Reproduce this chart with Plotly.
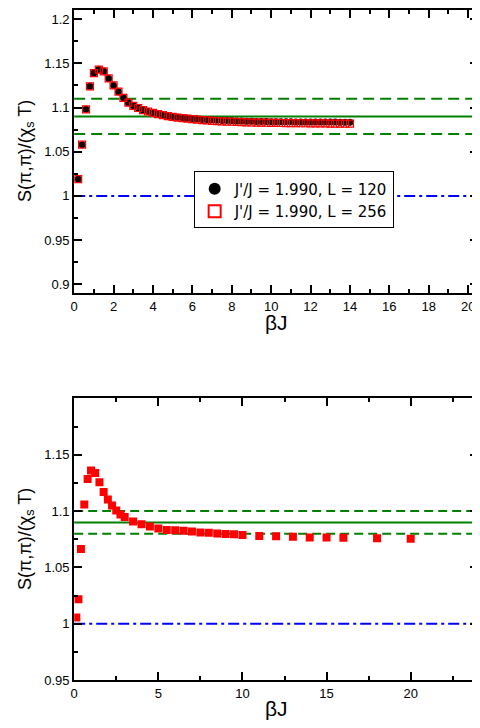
import plotly.graph_objects as go

# ---------------- data ----------------
x_top = [0.2, 0.4, 0.6, 0.8, 1.0, 1.25, 1.5, 1.75, 2.0, 2.25, 2.5, 2.75, 3.0, 3.25, 3.5, 3.75,
         4.0, 4.25, 4.5, 4.75, 5.0, 5.25, 5.5, 5.75, 6.0, 6.25, 6.5, 6.75, 7.0, 7.25, 7.5, 7.75,
         8.0, 8.25, 8.5, 8.75, 9.0, 9.25, 9.5, 9.75, 10.0, 10.25, 10.5, 10.75, 11.0, 11.25, 11.5,
         11.75, 12.0, 12.25, 12.5, 12.75, 13.0, 13.25, 13.5, 13.75, 14.0]
y_L120 = [1.019, 1.058, 1.098, 1.124, 1.139, 1.143, 1.141, 1.133, 1.125, 1.118, 1.111, 1.1055,
          1.102, 1.0995, 1.097, 1.0955, 1.094, 1.0928, 1.0917, 1.0907, 1.0899, 1.0891, 1.0885,
          1.0879, 1.0874, 1.0869, 1.0865, 1.0862, 1.0859, 1.0856, 1.0854, 1.0852, 1.0851,
          1.0849, 1.0847, 1.0845, 1.0844, 1.0843, 1.0842, 1.0841, 1.0840, 1.0839, 1.0839,
          1.0838, 1.0838, 1.0837, 1.0837, 1.0836, 1.0836, 1.0836, 1.0835, 1.0835, 1.0835,
          1.0835, 1.0834, 1.0834, 1.0834]
y_L256 = [1.019, 1.058, 1.098, 1.124, 1.139, 1.143, 1.141, 1.133, 1.125, 1.118, 1.111, 1.1055,
          1.102, 1.0995, 1.097, 1.0955, 1.094, 1.0926, 1.0914, 1.0904, 1.0895, 1.0887, 1.0880,
          1.0874, 1.0868, 1.0863, 1.0858, 1.0854, 1.0850, 1.0847, 1.0844, 1.0841, 1.0839,
          1.0837, 1.0835, 1.0833, 1.0831, 1.0830, 1.0829, 1.0828, 1.0827, 1.0826, 1.0825,
          1.0824, 1.0823, 1.0823, 1.0822, 1.0822, 1.0821, 1.0821, 1.0820, 1.0820, 1.0819,
          1.0819, 1.0819, 1.0818, 1.0818]

x_bot = [0.125, 0.25, 0.4, 0.6, 0.8, 1.0, 1.25, 1.5, 1.75, 2.0, 2.25, 2.5, 2.75, 3.0, 3.5, 4.0,
         4.5, 5.0, 5.5, 6.0, 6.5, 7.0, 7.5, 8.0, 8.5, 9.0, 9.5, 10, 11, 12, 13, 14, 15, 16, 18, 20]
y_bot = [1.0057, 1.0218, 1.0663, 1.1059, 1.1285, 1.136, 1.1337, 1.1255, 1.117, 1.1103, 1.105,
         1.1006, 1.097, 1.0947, 1.0907, 1.0883, 1.0863, 1.0845, 1.0833, 1.083, 1.0825, 1.0818,
         1.081, 1.0807, 1.0802, 1.0798, 1.0795, 1.0789, 1.078, 1.0778, 1.0772, 1.0766, 1.0766,
         1.0763, 1.076, 1.0754]

legend_names = ["J'/J = 1.990, L = 120", "J'/J = 1.990, L = 256"]

top_hlines = [(1.09, "solid"), (1.11, "dash"), (1.07, "dash"), (1.0, "dashdot")]
bot_hlines = [(1.09, "solid"), (1.10, "dash"), (1.08, "dash"), (1.0, "dashdot")]

top_xticks = [0, 2, 4, 6, 8, 10, 12, 14, 16, 18, 20]
top_yticks = [0.9, 0.95, 1.0, 1.05, 1.1, 1.15, 1.2]
top_ytext = ["0.9", "0.95", "1", "1.05", "1.1", "1.15", "1.2"]
bot_xticks = [0, 5, 10, 15, 20]
bot_yticks = [0.95, 1.0, 1.05, 1.1, 1.15]
bot_ytext = ["0.95", "1", "1.05", "1.1", "1.15"]

FONT = "Liberation Sans, Arial, sans-serif"
LFONT = "DejaVu Sans, Liberation Sans, sans-serif"
GREEN = "rgb(0,128,0)"
BLUE = "rgb(0,0,255)"
OFF = 8  # page body margin in front of the plot div
W, H = 480 - OFF, 728 - OFF


def px(xp):
    return (xp - OFF) / W


def py(yp):
    return 1 - (yp - OFF) / H


fig = go.Figure()

fig.add_trace(go.Scatter(x=x_top, y=y_L120, mode="markers", name=legend_names[0],
                         marker=dict(symbol="circle", size=7, color="black"),
                         xaxis="x", yaxis="y"))
fig.add_trace(go.Scatter(x=x_top, y=y_L256, mode="markers", name=legend_names[1],
                         marker=dict(symbol="square-open", size=7, color="red",
                                     line=dict(width=1.2, color="red")),
                         xaxis="x", yaxis="y"))
fig.add_trace(go.Scatter(x=x_bot, y=y_bot, mode="markers", showlegend=False,
                         marker=dict(symbol="square", size=8, color="red"),
                         xaxis="x2", yaxis="y2"))


def dashpat(kind, panel):
    if kind == "solid":
        return "solid"
    if kind == "dash":
        return "11px,6px" if panel == 1 else "9px,5px"
    return "11px,4px,3px,4px"


for val, kind in top_hlines:
    fig.add_shape(type="line", xref="x domain", yref="y", x0=0, x1=1, y0=val, y1=val,
                  line=dict(color=BLUE if kind == "dashdot" else GREEN, width=2,
                            dash=dashpat(kind, 1)), layer="below")
for val, kind in bot_hlines:
    fig.add_shape(type="line", xref="x2 domain", yref="y2", x0=0, x1=1, y0=val, y1=val,
                  line=dict(color=BLUE if kind == "dashdot" else GREEN, width=2,
                            dash=dashpat(kind, 2)), layer="below")

axis_common = dict(showgrid=False, zeroline=False, showline=True, linecolor="black",
                   linewidth=2, mirror="ticks", ticks="inside", ticklen=8, tickwidth=1.5,
                   tickcolor="black", tickfont=dict(family=FONT, size=13, color="black"))

fig.update_layout(
    width=W, height=H,
    margin=dict(l=0, r=0, t=0, b=0),
    paper_bgcolor="white", plot_bgcolor="white",
    font=dict(family=FONT, color="black"),
    xaxis=dict(domain=[px(71), px(480)], range=[0, 20.5], tickvals=top_xticks,
               minor=dict(dtick=1, tick0=0, ticks="inside", ticklen=4, tickwidth=1.5,
                          tickcolor="black"),
               anchor="y", **axis_common),
    yaxis=dict(domain=[py(295.7), py(9)], range=[0.89, 1.2104],
               tickvals=top_yticks, ticktext=top_ytext,
               minor=dict(dtick=0.025, tick0=0.9, ticks="inside", ticklen=4, tickwidth=1.5,
                          tickcolor="black"),
               anchor="x", **axis_common),
    xaxis2=dict(domain=[px(71), px(480)], range=[0, 24], tickvals=bot_xticks,
                minor=dict(dtick=2.5, tick0=0, ticks="inside", ticklen=4, tickwidth=1.5,
                           tickcolor="black"),
                anchor="y2", **axis_common),
    yaxis2=dict(domain=[py(687.7), py(402.3)], range=[0.95, 1.2],
                tickvals=bot_yticks, ticktext=bot_ytext,
                minor=dict(dtick=0.025, tick0=0.95, ticks="inside", ticklen=4, tickwidth=1.5,
                           tickcolor="black"),
                anchor="x2", **axis_common),
    legend=dict(x=px(192), y=py(172.5), xanchor="left", yanchor="top",
                bordercolor="black", borderwidth=1, bgcolor="white",
                font=dict(family=LFONT, size=15, color="black"),
                itemsizing="constant", tracegroupgap=0, itemwidth=30),
    showlegend=True,
)

ytitle = "S(π,π)/(χ<sub>s</sub> T)"
ann = [
    dict(text=ytitle, x=22, y=152, textangle=-90, size=18),
    dict(text=ytitle, x=22, y=545, textangle=-90, size=18),
    dict(text="βJ", x=276, y=325, textangle=0, size=21),
    dict(text="βJ", x=276, y=716, textangle=0, size=21),
]
for a in ann:
    fig.add_annotation(text=a["text"], x=px(a["x"]), y=py(a["y"]), xref="paper", yref="paper",
                       xanchor="center", yanchor="middle", showarrow=False,
                       textangle=a["textangle"],
                       font=dict(family=FONT, size=a["size"], color="black"))

fig.write_html("out.html")
